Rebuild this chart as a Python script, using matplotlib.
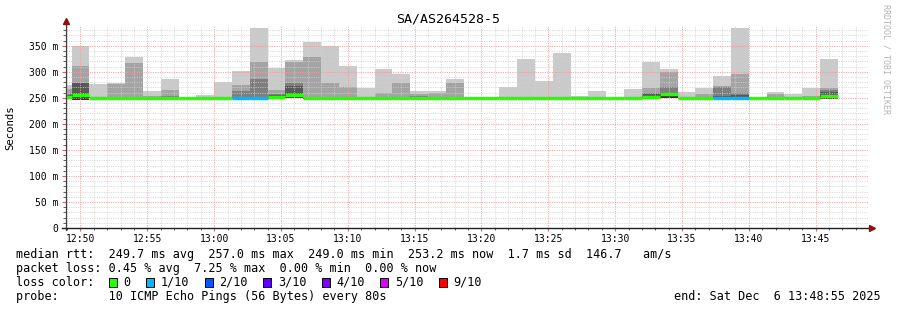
import numpy as np
import matplotlib
matplotlib.use('Agg')
import matplotlib.pyplot as plt
import matplotlib.dates as mdates
from matplotlib.patches import Rectangle
from matplotlib.ticker import MultipleLocator, FuncFormatter
from datetime import datetime, timedelta

### chart data (ms), one value per 80s step, first step partly off the left edge
step_s = 80
first_step = datetime(2025, 12, 6, 12, 48, 0)
t_start = datetime(2025, 12, 6, 12, 48, 55)
t_end = datetime(2025, 12, 6, 13, 48, 55)

median = [252.0, 255.0, 250.0, 250.0, 249.2, 249.2, 249.3, 249.5, 249.5, 249.4,
          249.3, 249.2, 251.5, 255.0, 249.1, 249.2, 249.0, 249.3, 249.2, 249.1,
          249.4, 249.3, 249.2, 249.1, 249.2, 250.5, 249.6, 249.0, 249.1, 249.0,
          249.0, 249.1, 249.0, 252.0, 257.0, 249.0, 249.1, 249.5, 249.4, 249.0,
          250.0, 250.0, 250.0, 253.2]
loss = [0, 0, 0, 0, 0, 0, 0, 0, 0, 0,
        1, 1, 0, 0, 0, 0, 0, 0, 0, 0,
        0, 0, 0, 0, 0, 0, 0, 0, 0, 0,
        0, 0, 0, 0, 0, 0, 0, 1, 1, 0,
        0, 0, 0, 0]
# smoke: bottom of the outer bands and tops of band 1 (outermost) .. band 4
smoke_lo = [248.5, 247.5, 249.0, 249.0, 248.5, 248.5, 248.5, 248.5, 248.5, 248.5,
            248.5, 248.5, 249.0, 249.0, 248.5, 248.5, 248.5, 248.5, 248.5, 248.5,
            248.5, 248.5, 248.5, 248.5, 248.5, 249.0, 248.5, 248.5, 248.5, 248.5,
            248.5, 248.5, 248.5, 248.5, 249.0, 248.5, 248.5, 248.5, 248.5, 248.5,
            249.0, 249.0, 249.0, 248.5]
smoke_hi1 = [275.0, 350.0, 277.0, 279.0, 329.0, 264.0, 286.5, 250.5, 256.0, 281.0,
             302.0, 384.6, 308.0, 323.0, 357.7, 348.7, 311.5, 269.0, 305.8, 295.5,
             263.5, 263.5, 286.5, 249.5, 249.5, 271.0, 325.0, 282.7, 337.0, 254.0,
             264.0, 249.5, 267.0, 318.0, 305.8, 261.5, 268.0, 291.0, 384.6, 251.0,
             261.5, 257.6, 268.0, 325.0]
smoke_hi2 = [267.0, 311.5, 250.0, 277.0, 316.0, 254.0, 266.0, 249.5, 249.5, 249.5,
             275.6, 318.0, 266.0, 318.0, 329.0, 278.0, 271.0, 249.5, 260.0, 279.0,
             258.0, 260.0, 279.0, 249.5, 249.5, 251.0, 251.5, 249.5, 249.5, 249.5,
             249.5, 249.5, 249.5, 268.0, 300.6, 249.5, 257.6, 272.0, 296.7, 249.5,
             257.6, 249.5, 254.0, 268.6]
smoke_hi3 = [258.0, 279.0, 250.0, 250.0, 250.0, 249.5, 254.0, 249.5, 249.5, 249.5,
             264.0, 287.0, 257.6, 277.6, 249.5, 249.5, 249.5, 249.5, 249.5, 249.5,
             254.0, 249.5, 249.5, 249.5, 249.5, 250.0, 249.5, 249.5, 249.5, 249.5,
             249.5, 249.5, 249.5, 260.0, 270.0, 249.5, 249.5, 271.0, 259.0, 249.5,
             250.0, 249.5, 249.5, 265.0]
smoke_hi4 = [256.0, 277.6, 250.0, 250.0, 249.5, 249.5, 250.0, 249.5, 249.5, 249.5,
             250.0, 250.0, 255.0, 272.0, 249.5, 249.5, 249.5, 249.5, 249.5, 249.5,
             249.5, 249.5, 249.5, 249.5, 249.5, 250.0, 249.5, 249.5, 249.5, 249.5,
             249.5, 249.5, 249.5, 257.6, 259.0, 249.5, 249.5, 253.0, 255.0, 249.5,
             250.0, 249.5, 249.5, 262.0]
# innermost (darkest) band around the median
core_lo = [247.5, 246.0, 249.0, 249.0, 248.5, 248.5, 248.5, 248.5, 248.5, 248.5,
           248.5, 248.5, 248.5, 249.0, 248.5, 248.5, 248.5, 248.5, 248.5, 248.5,
           248.5, 248.5, 248.5, 248.5, 248.5, 249.5, 248.5, 248.5, 248.5, 248.5,
           248.5, 248.5, 248.5, 247.5, 249.0, 248.5, 248.5, 248.5, 248.5, 248.5,
           249.0, 249.0, 249.0, 247.5]
core_hi = [253.0, 256.0, 251.0, 251.0, 250.0, 250.0, 250.0, 250.0, 250.0, 250.0,
           250.0, 250.0, 252.0, 258.0, 250.0, 250.0, 250.0, 250.0, 250.0, 250.0,
           250.0, 250.0, 250.0, 250.0, 250.0, 251.0, 250.0, 250.0, 250.0, 250.0,
           250.0, 250.0, 250.0, 254.0, 258.0, 250.0, 250.0, 250.0, 250.0, 250.0,
           251.0, 251.0, 251.0, 255.0]

loss_labels = ['0', '1/10', '2/10', '3/10', '4/10', '5/10', '9/10']
loss_colors = ['#26ff00', '#00b8ff', '#0059ff', '#5e00ff', '#7e00ff', '#dd00ff', '#ff0000']
band_colors = ['#cacaca', '#a4a4a4', '#7e7e7e', '#585858']
core_color = '#323232'

title = 'SA/AS264528-5'
legend_lines = [
    'median rtt:  249.7 ms avg  257.0 ms max  249.0 ms min  253.2 ms now  1.7 ms sd  146.7   am/s',
    'packet loss: 0.45 % avg  7.25 % max  0.00 % min  0.00 % now',
    'loss color:',
    'probe:       10 ICMP Echo Pings (56 Bytes) every 80s',
]
end_text = 'end: Sat Dec  6 13:48:55 2025'

### figure in pixel terms
W, H = 897, 310
mono = 'DejaVu Sans Mono'
fig = plt.figure(figsize=(W / 100, H / 100), dpi=100)
ax = fig.add_axes([66 / W, (H - 228) / H, 802 / W, 202 / H])

n = len(median)
starts = [first_step + timedelta(seconds=step_s * k) for k in range(n)]
xs = mdates.date2num(starts)
wid = step_s / 86400.0
xe = xs + wid

lo = np.array(smoke_lo)
for hi, col in zip([smoke_hi1, smoke_hi2, smoke_hi3, smoke_hi4], band_colors):
    ax.bar(xs, np.array(hi) - lo, bottom=lo, width=wid, align='edge',
           color=col, linewidth=0, zorder=1)
ax.bar(xs, np.array(core_hi) - np.array(core_lo), bottom=core_lo, width=wid,
       align='edge', color=core_color, linewidth=0, zorder=1)
ax.hlines(median, xs, xe, colors=[loss_colors[l] for l in loss],
          linewidth=2.5, zorder=4)

ax.set_xlim(mdates.date2num(t_start), mdates.date2num(t_end))
ax.set_ylim(0, 388)

ax.yaxis.set_major_locator(MultipleLocator(50))
ax.yaxis.set_minor_locator(MultipleLocator(10))
ax.yaxis.set_major_formatter(FuncFormatter(lambda v, p: '0' if v == 0 else '%d m' % v))
ax.xaxis.set_major_locator(mdates.MinuteLocator(byminute=range(0, 60, 5)))
ax.xaxis.set_minor_locator(mdates.MinuteLocator())
ax.xaxis.set_major_formatter(mdates.DateFormatter('%H:%M'))

ax.grid(which='minor', color='#cfcfcf', linestyle=(0, (1.2, 1.2)), linewidth=0.7, alpha=0.75, zorder=3)
ax.grid(which='major', color='#f49a9a', linestyle=(0, (1.2, 1.2)), linewidth=0.7, alpha=0.85, zorder=3)
ax.set_axisbelow(False)

for lab in ax.get_xticklabels() + ax.get_yticklabels():
    lab.set_fontfamily(mono)
    lab.set_fontsize(7)
ax.tick_params(axis='both', which='both', direction='out', colors='#444444', labelcolor='black')
ax.tick_params(axis='y', which='major', length=3, pad=2.5, color='#e06060')
ax.tick_params(axis='y', which='minor', length=2)
ax.tick_params(axis='x', which='major', length=2, pad=2.5, color='#e06060')
ax.tick_params(axis='x', which='minor', length=1.5)

for s in ['top', 'right', 'left', 'bottom']:
    ax.spines[s].set_visible(False)
ax.set_facecolor('white')
fig.patch.set_facecolor('white')

# axes with arrow heads, slightly past the plot area like rrdtool
ax.plot([0, 0], [-0.01, 1.02], transform=ax.transAxes, color='#404040', lw=0.9, clip_on=False, zorder=5)
ax.plot([-0.005, 1.004], [0, 0], transform=ax.transAxes, color='#202020', lw=1.0, clip_on=False, zorder=5)
ax.plot([0], [1.025], transform=ax.transAxes, marker='^', color='#8b1010', ms=4, clip_on=False, zorder=6)
ax.plot([1.005], [0], transform=ax.transAxes, marker='>', color='#8b1010', ms=4, clip_on=False, zorder=6)

### texts
def px(x, y):
    return x / W, 1 - y / H

fig.text(*px(448, 19), title, ha='center', va='center', fontsize=9.5, family=mono)
fig.text(*px(10, 127.5), 'Seconds', rotation=90, ha='center', va='center', fontsize=7.7, family=mono)
fig.text(*px(886, 59), 'RRDTOOL / TOBI OETIKER', rotation=270, ha='center', va='center',
         fontsize=6, family=mono, color='#b4b4b4')

line_y = [254.3, 268.3, 282.3, 296.3]
for txt, y in zip(legend_lines, line_y):
    fig.text(*px(16, y), txt, ha='left', va='center', fontsize=8.5, family=mono)
fig.text(*px(881, line_y[3]), end_text, ha='right', va='center', fontsize=8.5, family=mono)

cw = 7.14
bx = 109.0
for lab, col in zip(loss_labels, loss_colors):
    fig.patches.append(Rectangle(px(bx, line_y[2] + 4.5), 8 / W, 9 / H, transform=fig.transFigure,
                                 facecolor=col, edgecolor='black', linewidth=0.7, figure=fig))
    fig.text(*px(bx + 14.5, line_y[2]), lab, ha='left', va='center', fontsize=8.5, family=mono)
    bx = bx + 14.5 + len(lab) * cw + 15.5

fig.savefig('out.png', dpi=100, facecolor='white')
